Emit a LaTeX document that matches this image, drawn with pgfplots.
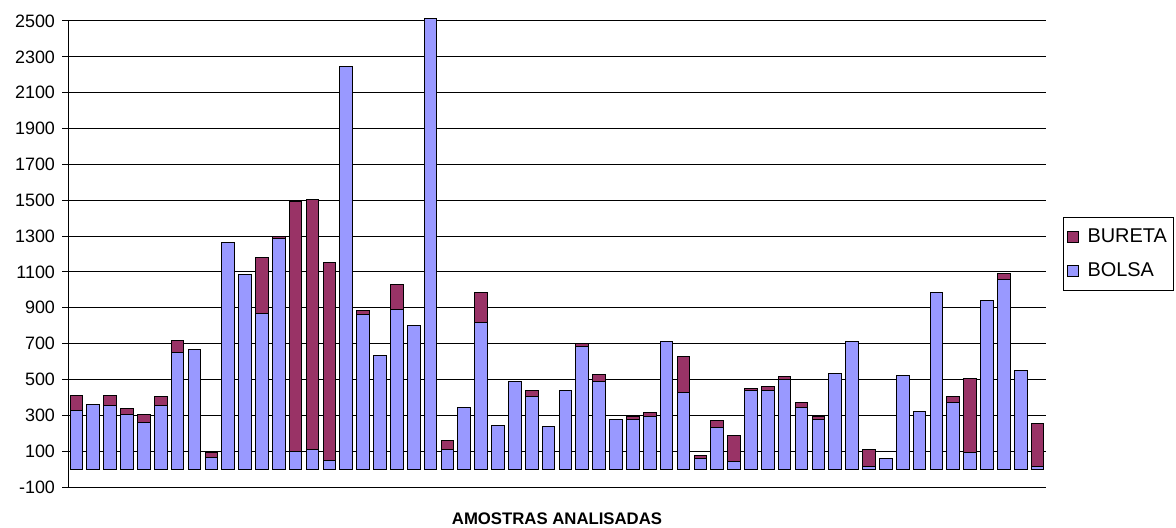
\documentclass[border=0pt]{standalone}
\usepackage{pgfplots}
\usepackage{pgfplotstable}
\pgfplotsset{compat=1.18}
\usepackage{fontspec}
\setmainfont{Liberation Sans}
\definecolor{bolsa}{HTML}{9999FF}
\definecolor{bureta}{HTML}{993366}
\pgfplotstableread{
i bolsa bureta
1 327 86
2 363 0
3 355 58
4 303 35
5 262 41
6 355 50
7 651 67
8 666 0
9 67 26
10 1265 0
11 1088 0
12 870 313
13 1288 7
14 99 1394
15 108 1394
16 48 1107
17 2247 0
18 861 26
19 634 0
20 893 135
21 802 0
22 2515 0
23 108 52
24 346 0
25 820 168
26 244 0
27 491 0
28 404 37
29 236 0
30 441 0
31 683 18
32 489 37
33 279 0
34 277 19
35 296 18
36 710 0
37 430 197
38 58 20
39 234 38
40 41 147
41 439 11
42 439 19
43 498 17
44 346 26
45 277 19
46 534 0
47 710 0
48 17 93
49 60 0
50 524 0
51 322 0
52 988 0
53 372 35
54 93 415
55 939 0
56 1056 34
57 551 0
58 17 238
}\data
\begin{document}
\begin{tikzpicture}
\begin{axis}[
  scale only axis, width=489bp, height=233bp,
  ybar stacked, bar width=0.75,
  xmin=0.5, xmax=58.5, ymin=-100, ymax=2500,
  ytick={-100,100,...,2500},
  xtick=\empty,
  axis lines*=left,
  axis line style={black, line width=0.5bp},
  ymajorgrids, grid style={black, line width=0.5bp},
  tick align=outside, major tick length=3bp,
  tick style={black, line width=0.5bp},
  yticklabel style={font=\fontsize{9}{10}\selectfont},
  /pgf/number format/assume math mode=true,
  /pgf/number format/1000 sep={},
  clip=false,
  xlabel={\bfseries AMOSTRAS ANALISADAS},
  xlabel style={at={(axis description cs:0.5,0)}, anchor=center, yshift=-15.75bp, font=\fontsize{8.4}{10}\selectfont},
  reverse legend,
  legend style={at={(1,0.5)}, anchor=west, xshift=8.5bp, draw=black, line width=0.5bp,
    font=\fontsize{10}{12}\selectfont, inner xsep=1.5bp, inner ysep=3.5bp, row sep=4.5bp,
    cells={anchor=west}},
  legend image code/.code={\draw[#1] (0bp,-2.75bp) rectangle (5.5bp,2.75bp); \path (8bp,0bp);},
]
\addplot[fill=bolsa, draw=black, line width=0.5bp] table[x=i, y=bolsa] {\data};
\addplot[fill=bureta, draw=black, line width=0.5bp] table[x=i, y=bureta] {\data};
\legend{BOLSA, BURETA}
\coordinate (sw) at (rel axis cs:0,0);
\coordinate (ne) at (rel axis cs:1,1);
\end{axis}
\pgfresetboundingbox
\path ([shift={(-34bp,-20bp)}]sw) rectangle ([shift={(65bp,10.5bp)}]ne);
\end{tikzpicture}
\end{document}
